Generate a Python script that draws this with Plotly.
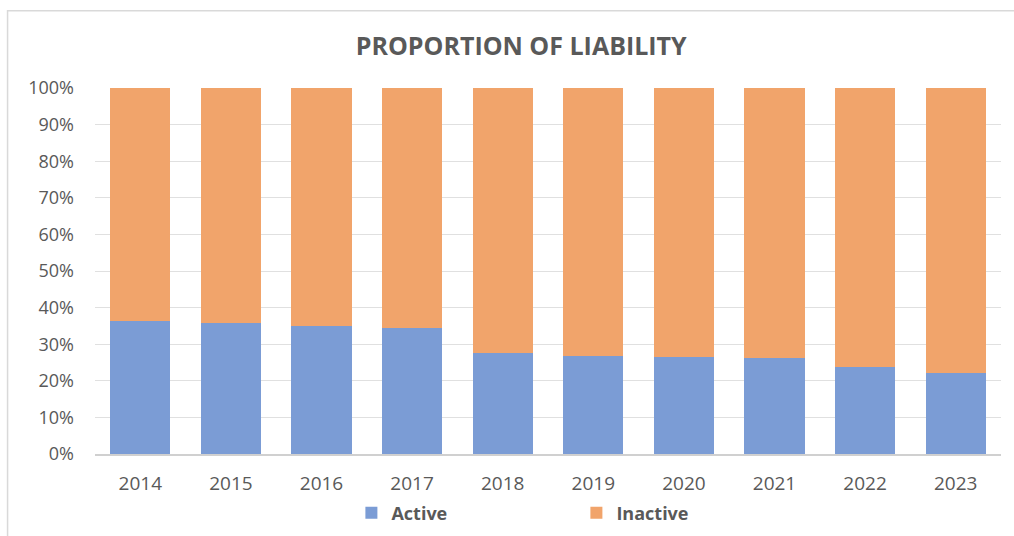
import plotly.graph_objects as go

years = ["2014", "2015", "2016", "2017", "2018", "2019", "2020", "2021", "2022", "2023"]
active = [36.4, 35.9, 34.9, 34.4, 27.5, 26.9, 26.4, 26.1, 23.7, 22.0]
inactive = [63.6, 64.1, 65.1, 65.6, 72.5, 73.1, 73.6, 73.9, 76.3, 78.0]
y_ticks = [0, 10, 20, 30, 40, 50, 60, 70, 80, 90, 100]
y_tick_text = [f"{v}%" for v in y_ticks]

BLUE = "#7B9CD5"
ORANGE = "#F1A46B"
GRAY = "#595959"
FONT = "Open Sans"

fig = go.Figure()
fig.add_trace(go.Bar(name="Active", x=years, y=active, marker=dict(color=BLUE, line=dict(width=0))))
fig.add_trace(go.Bar(name="Inactive", x=years, y=inactive, marker=dict(color=ORANGE, line=dict(width=0))))

fig.update_layout(
    barmode="stack",
    bargap=0.335,
    width=1014,
    height=536,
    margin=dict(l=95, r=13, t=88, b=82, autoexpand=False),
    paper_bgcolor="white",
    plot_bgcolor="white",
    font=dict(family=FONT, color=GRAY, size=18),
    title=dict(
        text="<b>PROPORTION OF LIABILITY</b>",
        x=0.514, xanchor="center", y=0.914, yanchor="middle",
        font=dict(family=FONT, size=25, color=GRAY),
    ),
    showlegend=True,
    legend=dict(
        orientation="h", traceorder="normal",
        x=0.283, xanchor="left", y=-0.161, yanchor="middle",
        font=dict(family=FONT, size=18, color=GRAY, weight="bold"),
        entrywidth=180, entrywidthmode="pixels",
        itemclick=False, itemdoubleclick=False,
    ),
    hovermode=False,
    shapes=[dict(
        type="rect", xref="paper", yref="paper",
        x0=-0.0965, x1=1.2, y0=-0.6, y1=1.211,
        line=dict(color="#D9D9D9", width=1.5), fillcolor="rgba(0,0,0,0)", layer="below",
    )],
)

fig.update_yaxes(
    range=[0, 100], tickvals=y_ticks, ticktext=y_tick_text,
    showgrid=True, gridcolor="#E0E0E0", gridwidth=1,
    zeroline=False, showline=False, ticks="",
    ticklabelstandoff=20,
    tickfont=dict(family=FONT, size=18, color=GRAY),
)
fig.update_xaxes(
    showgrid=False, showline=True, linecolor="#D0D0D0", linewidth=1.5,
    ticks="", ticklabelstandoff=12,
    tickfont=dict(family=FONT, size=19, color=GRAY),
)

fig.write_html(
    "out.html",
    config={"displayModeBar": False, "staticPlot": True},
    post_script="document.body.style.margin='0';document.body.style.padding='0';",
)
